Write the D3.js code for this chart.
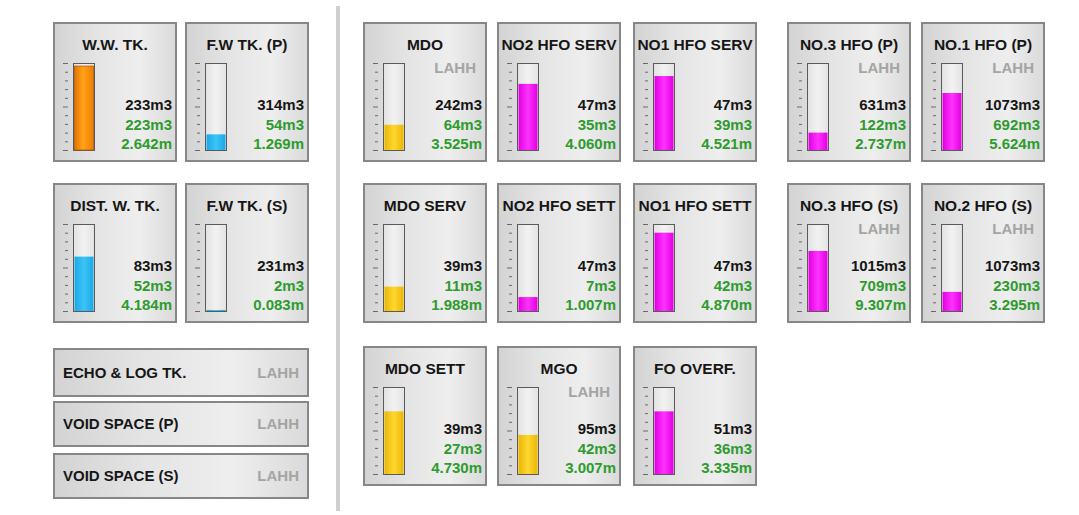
<!DOCTYPE html>
<html><head><meta charset="utf-8">
<script src="https://cdn.jsdelivr.net/npm/d3@7"></script>
<style>html,body{margin:0;padding:0;background:#fff;overflow:hidden}</style>
</head><body>
<svg id="c" width="1079" height="515"></svg>
<script>
// ---- data ----
const tankNames = ["W.W. TK.","F.W TK. (P)","DIST. W. TK.","F.W TK. (S)","MDO","NO2 HFO SERV","NO1 HFO SERV","NO.3 HFO (P)","NO.1 HFO (P)","MDO SERV","NO2 HFO SETT","NO1 HFO SETT","NO.3 HFO (S)","NO.2 HFO (S)","MDO SETT","MGO","FO OVERF."];
const capacity = [233,314,83,231,242,47,47,631,1073,39,47,47,1015,1073,39,95,51];
const volume   = [223,54,52,2,64,35,39,122,692,11,7,42,709,230,27,42,36];
const level    = ["2.642","1.269","4.184","0.083","3.525","4.060","4.521","2.737","5.624","1.988","1.007","4.870","9.307","3.295","4.730","3.007","3.335"];
const fillFrac = [0.965,0.18,0.625,0.012,0.29,0.76,0.85,0.2,0.655,0.28,0.16,0.9,0.69,0.22,0.72,0.45,0.72];
const fluid    = ["ww","fw","fw","fw","mdo","hfo","hfo","hfo","hfo","mdo","hfo","hfo","hfo","hfo","mdo","mdo","hfo"];
const lahh     = [0,0,0,0,1,0,0,1,1,0,0,0,1,1,0,1,0];
const alarmBoxes = ["ECHO & LOG TK.","VOID SPACE (P)","VOID SPACE (S)"];
const alarmText = "LAHH";

// ---- layout (separate from data) ----
const tankCol = [0,1,0,1,2,3,4,5,6,2,3,4,5,6,2,3,4];
const tankRow = [0,0,1,1,0,0,0,0,0,1,1,1,1,1,2,2,2];
const colX = [53,185,363,497,633,787,921];
const rowY = [22,183,346];
const PW = 124, PH = 140;

const svg = d3.select("#c");
const defs = svg.append("defs");
const FONT = "'Liberation Sans', Arial, sans-serif";

function grad(id, stops, vertical){
  const g = defs.append("linearGradient").attr("id", id)
    .attr("x1",0).attr("y1",0).attr("x2", vertical?0:1).attr("y2", vertical?1:0);
  stops.forEach(s => g.append("stop").attr("offset", s[0]).attr("stop-color", s[1]));
}
grad("panelG", [[0,"#d3d3d3"],[0.35,"#e4e4e4"],[0.7,"#eeeeee"],[1,"#dadada"]]);
grad("ww",  [[0,"#e67300"],[0.45,"#ffa31a"],[1,"#ee7d00"]]);
grad("fw",  [[0,"#1aa8e6"],[0.5,"#3cc4f7"],[1,"#1aa8e6"]]);
grad("mdo", [[0,"#eab800"],[0.5,"#ffd633"],[1,"#eab800"]]);
grad("hfo", [[0,"#e000e0"],[0.5,"#ff33ff"],[1,"#e000e0"]]);
grad("barBg", [[0,"#e2e2e2"],[0.5,"#f2f2f2"],[1,"#e2e2e2"]]);

// divider
svg.append("rect").attr("x",336).attr("y",6).attr("width",4).attr("height",505).attr("fill","#cfcfcf");

const xPanel = d3.scaleOrdinal().domain(d3.range(colX.length)).range(colX);
const yPanel = d3.scaleOrdinal().domain(d3.range(rowY.length)).range(rowY);

const BAR_X = 20, BAR_W = 22, BAR_TOP = 41, BAR_H = 87;
const yFill = d3.scaleLinear().domain([0,1]).range([BAR_TOP+BAR_H, BAR_TOP]);

const idx = d3.range(tankNames.length);
const panels = svg.selectAll("g.tank").data(idx).join("g")
  .attr("class","tank")
  .attr("transform", i => `translate(${xPanel(tankCol[i])},${yPanel(tankRow[i])})`);

panels.append("rect").attr("x",1).attr("y",1).attr("width",PW-2).attr("height",PH-2)
  .attr("fill","url(#panelG)").attr("stroke","#878787").attr("stroke-width",2);

panels.append("text").attr("x",PW/2).attr("y",22).attr("dy","0.36em")
  .attr("text-anchor","middle").attr("font-family",FONT).attr("font-weight","bold")
  .attr("font-size","15.5px").attr("fill","#161616").text(i => tankNames[i]);

// ticks
const tickVals = d3.range(0, 1.0001, 0.1);
panels.each(function(i){
  const g = d3.select(this);
  g.selectAll("line.tk").data(tickVals).join("line")
    .attr("x1", (d,k) => (k===0||k===5||k===10) ? 10 : 12).attr("x2", 15)
    .attr("y1", d => yFill(d)+0.5).attr("y2", d => yFill(d)+0.5)
    .attr("stroke","#6a6a6a").attr("stroke-width",1);
  g.append("rect").attr("x",BAR_X+0.5).attr("y",BAR_TOP+0.5).attr("width",BAR_W-1).attr("height",BAR_H)
    .attr("fill","url(#barBg)").attr("stroke","#5a5a5a").attr("stroke-width",1);
  const ft = yFill(fillFrac[i]);
  g.append("rect").attr("x",BAR_X+1.5).attr("y",ft).attr("width",BAR_W-3)
    .attr("height", Math.max(1, BAR_TOP+BAR_H - ft))
    .attr("fill", `url(#${fluid[i]})`);
  if (fluid[i]==="ww"){
    g.append("rect").attr("x",BAR_X+1.5).attr("y",ft).attr("width",BAR_W-3)
      .attr("height", BAR_TOP+BAR_H-ft).attr("fill","none").attr("stroke","#b35a00").attr("stroke-width",0.8);
  }
  if (lahh[i]) {
    g.append("text").attr("x",PW-11).attr("y",46).attr("dy","0.36em").attr("text-anchor","end")
      .attr("font-family",FONT).attr("font-weight","bold").attr("font-size","15px")
      .attr("fill","#a4a4a4").text(alarmText);
  }
  const vals = [[capacity[i]+"m3","#161616",83],[volume[i]+"m3","#2e9b2e",102.5],[level[i]+"m","#2e9b2e",122]];
  vals.forEach(v => g.append("text").attr("x",PW-5).attr("y",v[2]).attr("dy","0.36em")
    .attr("text-anchor","end").attr("font-family",FONT).attr("font-weight","bold")
    .attr("font-size","15px").attr("fill",v[1]).text(v[0]));
});

// alarm boxes
const boxY = [348,401,453], boxH = [49,46,46];
const boxes = svg.selectAll("g.box").data(alarmBoxes).join("g")
  .attr("transform",(d,k)=>`translate(53,${boxY[k]})`);
boxes.append("rect").attr("x",1).attr("y",1).attr("width",254).attr("height",(d,k)=>boxH[k]-2)
  .attr("fill","url(#panelG)").attr("stroke","#878787").attr("stroke-width",2);
boxes.append("text").attr("x",10).attr("y",(d,k)=>boxH[k]/2).attr("dy","0.36em")
  .attr("font-family",FONT).attr("font-weight","bold").attr("font-size","15px")
  .attr("fill","#161616").text(d=>d);
boxes.append("text").attr("x",246).attr("y",(d,k)=>boxH[k]/2).attr("dy","0.36em").attr("text-anchor","end")
  .attr("font-family",FONT).attr("font-weight","bold").attr("font-size","15px")
  .attr("fill","#a4a4a4").text(alarmText);
</script>
</body></html>
